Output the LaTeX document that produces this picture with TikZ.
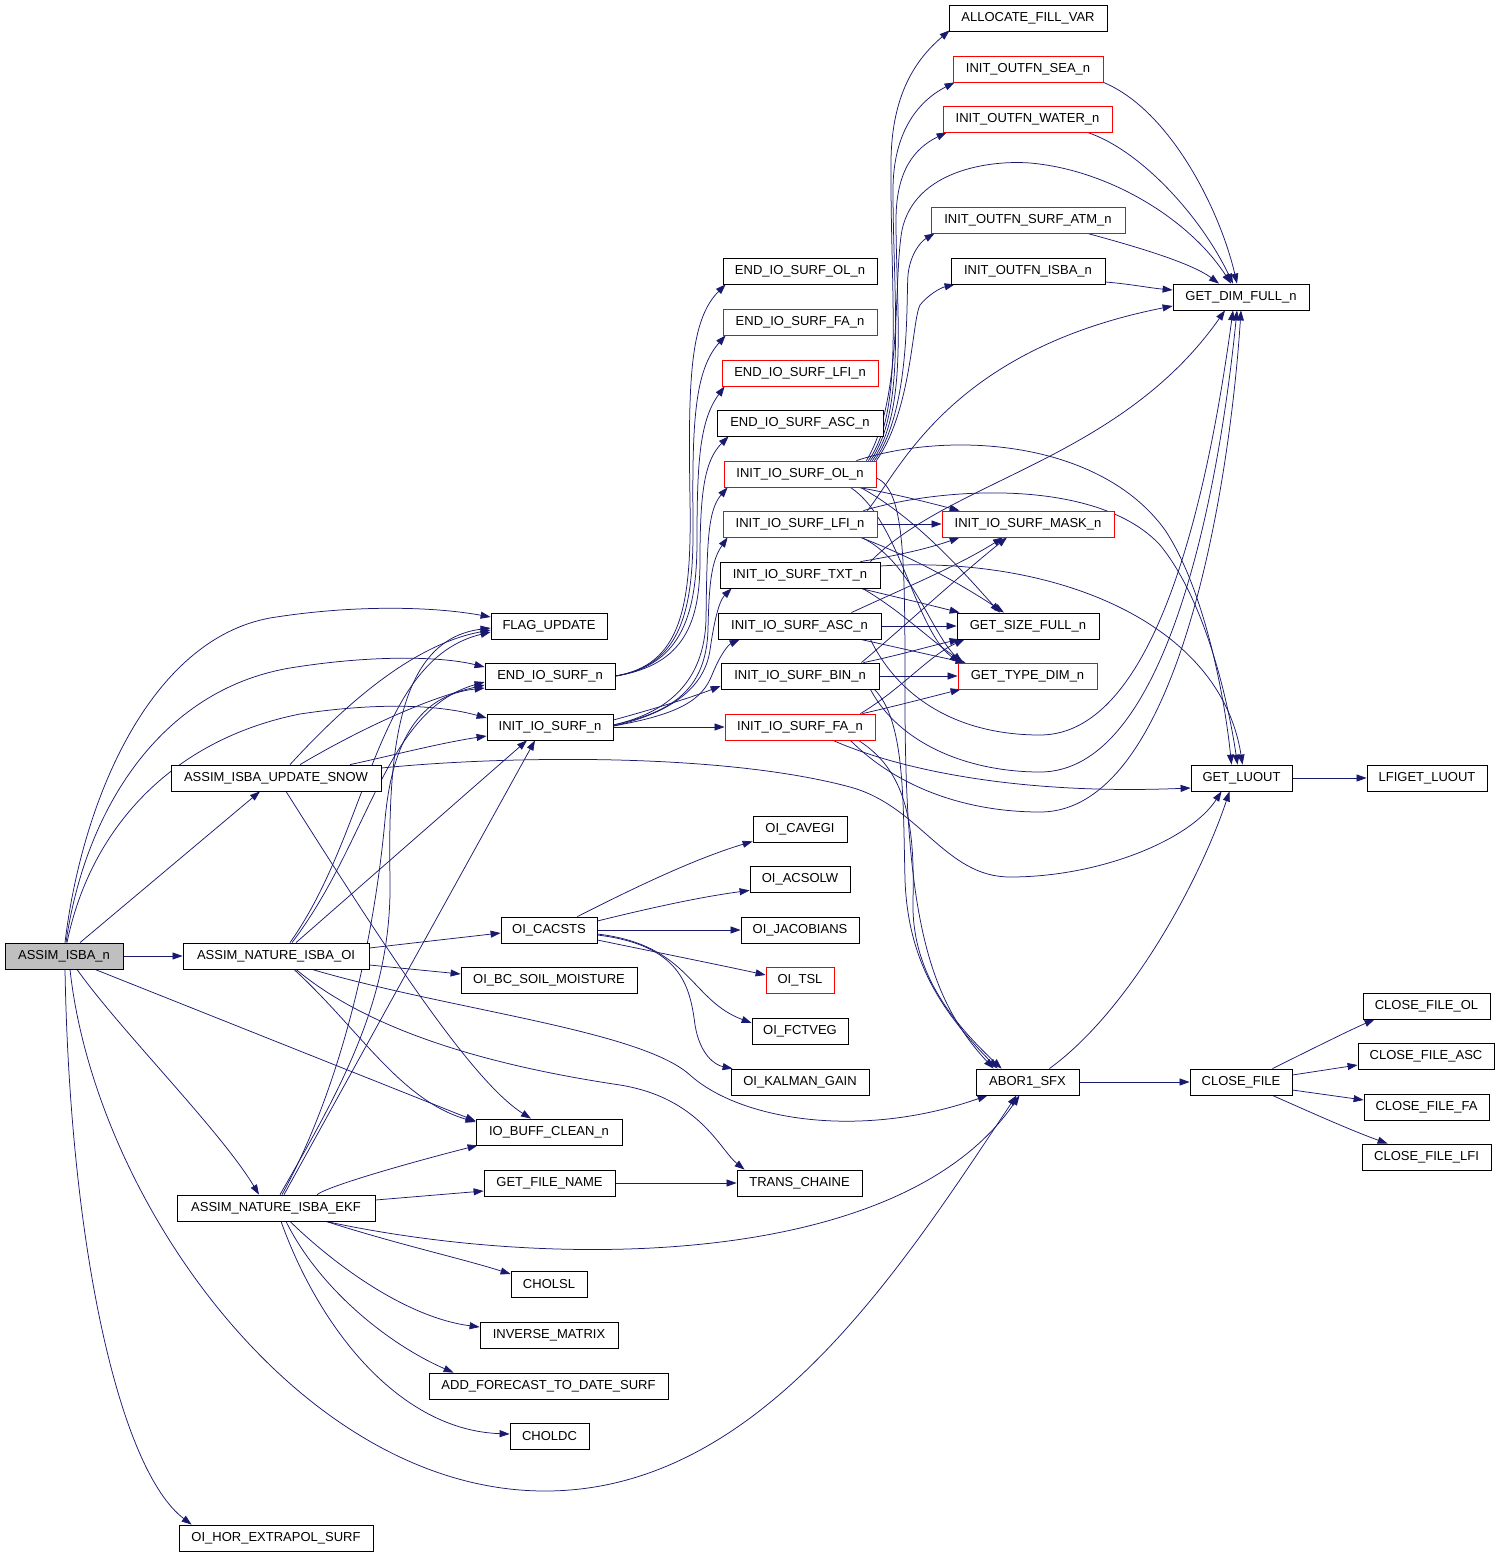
\documentclass[tikz,border=0pt]{standalone}
\usepackage{fontspec}
\setmainfont{Liberation Sans}
\usetikzlibrary{arrows.meta,calc}
\definecolor{edgeblue}{HTML}{191970}
\definecolor{boxgray}{HTML}{BFBFBF}
\pgfdeclarelayer{edges}
\pgfsetlayers{edges,main}
\tikzset{
  box/.style={draw=black, line width=0.8pt, fill=white, minimum height=26pt, inner sep=0pt, font=\fontsize{13pt}{15pt}\selectfont},
  rbox/.style={box, draw=red},
  e/.style={draw=edgeblue, line width=0.75pt, -{Triangle[length=10pt,width=7pt]}}
}
\begin{document}
\begin{tikzpicture}[x=1pt,y=-1pt]
\useasboundingbox (0,0) rectangle (1501,1557);
% rank 0/1
\node[box, minimum width=118pt, fill=boxgray] (n0) at (64,956) {ASSIM\_ISBA\_n};
\node[box, minimum width=210pt] (upd) at (276,778) {ASSIM\_ISBA\_UPDATE\_SNOW};
\node[box, minimum width=186pt] (oi) at (276,956) {ASSIM\_NATURE\_ISBA\_OI};
\node[box, minimum width=198pt] (ekf) at (276,1208) {ASSIM\_NATURE\_ISBA\_EKF};
\node[box, minimum width=194pt] (hor) at (276,1538) {OI\_HOR\_EXTRAPOL\_SURF};
% rank 2
\node[box, minimum width=116pt] (flag) at (549,626) {FLAG\_UPDATE};
\node[box, minimum width=130pt] (endio) at (550,676) {END\_IO\_SURF\_n};
\node[box, minimum width=126pt] (initio) at (550,727) {INIT\_IO\_SURF\_n};
\node[box, minimum width=96pt] (cacsts) at (549,930) {OI\_CACSTS};
\node[box, minimum width=176pt] (bc) at (549,980) {OI\_BC\_SOIL\_MOISTURE};
\node[box, minimum width=146pt] (iobuff) at (549,1132) {IO\_BUFF\_CLEAN\_n};
\node[box, minimum width=131pt] (gfn) at (549.5,1183) {GET\_FILE\_NAME};
\node[box, minimum width=76pt] (cholsl) at (549,1284) {CHOLSL};
\node[box, minimum width=138pt] (inv) at (549,1335) {INVERSE\_MATRIX};
\node[box, minimum width=239pt] (addf) at (548.5,1386) {ADD\_FORECAST\_TO\_DATE\_SURF};
\node[box, minimum width=79pt] (choldc) at (549.5,1436) {CHOLDC};
% rank 3
\node[box, minimum width=154pt] (eol) at (800,271) {END\_IO\_SURF\_OL\_n};
\node[rbox, minimum width=154pt] (efa) at (800,322) {END\_IO\_SURF\_FA\_n};
\node[rbox, minimum width=156pt] (elfi) at (800,373) {END\_IO\_SURF\_LFI\_n};
\node[box, minimum width=166pt] (easc) at (800,423) {END\_IO\_SURF\_ASC\_n};
\node[rbox, minimum width=152pt] (iol) at (800,474) {INIT\_IO\_SURF\_OL\_n};
\node[rbox, minimum width=154pt] (ilfi) at (800,524) {INIT\_IO\_SURF\_LFI\_n};
\node[box, minimum width=160pt] (itxt) at (800,575) {INIT\_IO\_SURF\_TXT\_n};
\node[box, minimum width=163pt] (iasc) at (799.5,626) {INIT\_IO\_SURF\_ASC\_n};
\node[box, minimum width=158pt] (ibin) at (800,676) {INIT\_IO\_SURF\_BIN\_n};
\node[rbox, minimum width=150pt] (ifa) at (800,727) {INIT\_IO\_SURF\_FA\_n};
\node[box, minimum width=94pt] (cavegi) at (800,829) {OI\_CAVEGI};
\node[box, minimum width=100pt] (acsolw) at (800,879) {OI\_ACSOLW};
\node[box, minimum width=118pt] (jac) at (800,930) {OI\_JACOBIANS};
\node[rbox, minimum width=68pt] (tsl) at (800,980) {OI\_TSL};
\node[box, minimum width=96pt] (fctveg) at (800,1031) {OI\_FCTVEG};
\node[box, minimum width=138pt] (kalman) at (800,1082) {OI\_KALMAN\_GAIN};
\node[box, minimum width=125pt] (trans) at (799.5,1183) {TRANS\_CHAINE};
% rank 4
\node[box, minimum width=158pt] (alloc) at (1028,18) {ALLOCATE\_FILL\_VAR};
\node[rbox, minimum width=150pt] (sea) at (1028,69) {INIT\_OUTFN\_SEA\_n};
\node[rbox, minimum width=169pt] (water) at (1027.5,119) {INIT\_OUTFN\_WATER\_n};
\node[rbox, minimum width=194pt] (satm) at (1028,220) {INIT\_OUTFN\_SURF\_ATM\_n};
\node[box, minimum width=154pt] (isba) at (1028,271) {INIT\_OUTFN\_ISBA\_n};
\node[rbox, minimum width=172pt] (mask) at (1028,524) {INIT\_IO\_SURF\_MASK\_n};
\node[box, minimum width=142pt] (size) at (1028,626) {GET\_SIZE\_FULL\_n};
\node[rbox, minimum width=139pt] (type) at (1027.5,676) {GET\_TYPE\_DIM\_n};
\node[box, minimum width=103pt] (abor) at (1027.5,1082) {ABOR1\_SFX};
% rank 5/6
\node[box, minimum width=136pt] (gdf) at (1241,297) {GET\_DIM\_FULL\_n};
\node[box, minimum width=101pt] (gl) at (1241.5,778) {GET\_LUOUT};
\node[box, minimum width=102pt] (cf) at (1241,1082) {CLOSE\_FILE};
\node[box, minimum width=120pt] (lfig) at (1427,778) {LFIGET\_LUOUT};
\node[box, minimum width=127pt] (cfol) at (1426.5,1006) {CLOSE\_FILE\_OL};
\node[box, minimum width=136pt] (cfasc) at (1426,1056) {CLOSE\_FILE\_ASC};
\node[box, minimum width=125pt] (cffa) at (1426.5,1107) {CLOSE\_FILE\_FA};
\node[box, minimum width=129pt] (cflfi) at (1426.5,1157) {CLOSE\_FILE\_LFI};

\begin{pgfonlayer}{edges}
% ASSIM_ISBA_n
\draw[e] ($(n0.north)+(1,0)$) .. controls (82,800) and (150,640) .. (270,618) .. controls (350,605) and (430,606) .. ($(flag.west)+(0,-9)$);
\draw[e] ($(n0.north)+(2,0)$) .. controls (85,810) and (160,690) .. (290,668) .. controls (370,655) and (440,656) .. ($(endio.west)+(0,-9)$);
\draw[e] ($(n0.north)+(3,0)$) .. controls (90,830) and (170,740) .. (300,714) .. controls (380,702) and (440,705) .. ($(initio.west)+(0,-9)$);
\draw[e] ($(n0.north)+(16,0)$) -- ($(upd.south)+(-16,0)$);
\draw[e] (n0.east) -- (oi.west);
\draw[e] ($(n0.south)+(31,0)$) -- ($(iobuff.west)+(0,-11)$);
\draw[e] ($(n0.south)+(13,0)$) .. controls (120,1030) and (220,1130) .. ($(ekf.north)+(-17,0)$);
\draw[e] ($(n0.south)+(1,0)$) .. controls (70,1250) and (120,1470) .. ($(hor.north west)+(13,0)$);
\draw[e] ($(n0.south)+(6,0)$) .. controls (95,1200) and (300,1491) .. (545,1491) .. controls (760,1491) and (900,1270) .. ($(abor.south)+(-11,0)$);
% UPDATE_SNOW
\draw[e] ($(upd.north)+(14,0)$) .. controls (340,710) and (410,645) .. ($(flag.west)+(0,4)$);
\draw[e] ($(upd.north)+(24,0)$) .. controls (350,735) and (420,700) .. ($(endio.west)+(0,9)$);
\draw[e] ($(upd.north)+(74,0)$) .. controls (390,756) and (440,743) .. ($(initio.west)+(0,9)$);
\draw[e] ($(upd.south)+(10,0)$) .. controls (380,940) and (470,1080) .. ($(iobuff.north)+(-18,0)$);
\draw[e] ($(upd.east)+(0,-10)$) .. controls (500,756) and (720,752) .. (850,787) .. controls (920,806) and (945,877) .. (1010,877) .. controls (1100,877) and (1190,840) .. ($(gl.south)+(-20,0)$);
% NATURE_ISBA_OI
\draw[e] ($(oi.north)+(14,0)$) .. controls (370,830) and (375,660) .. ($(flag.west)+(0,6)$);
\draw[e] ($(oi.north)+(16,0)$) .. controls (370,840) and (385,710) .. ($(endio.west)+(0,6)$);
\draw[e] ($(oi.north)+(20,0)$) -- ($(initio.south)+(-23,0)$);
\draw[e] ($(oi.east)+(0,-8)$) -- ($(cacsts.west)+(0,3)$);
\draw[e] ($(oi.east)+(0,9)$) -- ($(bc.west)+(0,-6)$);
\draw[e] ($(oi.south)+(18,0)$) .. controls (360,1030) and (400,1100) .. ($(iobuff.west)+(0,-10)$);
\draw[e] ($(oi.south)+(20,0)$) .. controls (380,1040) and (520,1070) .. (620,1085) .. controls (700,1098) and (720,1150) .. ($(trans.north west)+(8,0)$);
\draw[e] ($(oi.south)+(36,0)$) .. controls (450,1010) and (640,1030) .. (690,1075) .. controls (740,1120) and (860,1140) .. ($(abor.south west)+(12,0)$);
% NATURE_ISBA_EKF
\draw[e] ($(ekf.north)+(4,0)$) .. controls (340,1090) and (392,1000) .. (390,880) .. controls (388,760) and (395,640) .. ($(flag.west)+(0,2)$);
\draw[e] ($(ekf.north)+(6,0)$) .. controls (345,1080) and (375,930) .. (385,820) .. controls (392,740) and (420,695) .. ($(endio.west)+(0,12)$);
\draw[e] ($(ekf.north)+(8,0)$) -- ($(initio.south)+(-15,0)$);
\draw[e] ($(ekf.north)+(41,0)$) .. controls (330,1185) and (420,1160) .. ($(iobuff.south west)+(2,0)$);
\draw[e] ($(ekf.east)+(0,-8)$) -- ($(gfn.west)+(0,8)$);
\draw[e] ($(ekf.south)+(50,0)$) .. controls (550,1270) and (900,1270) .. ($(abor.south)+(-8,0)$);
\draw[e] ($(ekf.south)+(50,0)$) .. controls (400,1245) and (460,1258) .. ($(cholsl.west)+(0,-10)$);
\draw[e] ($(ekf.south)+(14,0)$) .. controls (340,1270) and (410,1318) .. ($(inv.west)+(0,-8)$);
\draw[e] ($(ekf.south)+(10,0)$) .. controls (320,1290) and (390,1345) .. ($(addf.north west)+(25,0)$);
\draw[e] ($(ekf.south)+(5,0)$) .. controls (320,1330) and (400,1430) .. ($(choldc.west)+(0,-2)$);
% END_IO_SURF_n
\draw[e] (endio.east) .. controls (680,665) and (692,610) .. (690,500) .. controls (688,380) and (690,320) .. ($(eol.south west)+(3,0)$);
\draw[e] (endio.east) .. controls (682,665) and (694,610) .. (693,520) .. controls (692,420) and (695,370) .. ($(efa.south west)+(3,0)$);
\draw[e] (endio.east) .. controls (684,665) and (697,610) .. (697,540) .. controls (697,460) and (700,420) .. ($(elfi.south west)+(3,0)$);
\draw[e] (endio.east) .. controls (686,665) and (700,620) .. (700,560) .. controls (700,490) and (705,460) .. ($(easc.south west)+(12,0)$);
% INIT_IO_SURF_n
\draw[e] ($(initio.east)+(0,-2)$) .. controls (670,712) and (704,680) .. (706,620) .. controls (707,540) and (708,510) .. ($(iol.south west)+(4,0)$);
\draw[e] ($(initio.east)+(0,-2)$) .. controls (672,712) and (706,690) .. (708,630) .. controls (709,580) and (712,560) .. ($(ilfi.south west)+(5,0)$);
\draw[e] ($(initio.east)+(0,-1)$) .. controls (675,712) and (705,685) .. (710,650) .. controls (715,615) and (720,600) .. ($(itxt.south west)+(12,0)$);
\draw[e] ($(initio.east)+(0,-1)$) .. controls (680,714) and (702,700) .. (712,675) .. controls (720,655) and (728,645) .. ($(iasc.south west)+(22,0)$);
\draw[e] ($(initio.east)+(0,-7)$) .. controls (650,710) and (690,698) .. ($(ibin.west)+(0,10)$);
\draw[e] (initio.east) -- (ifa.west);
% OI_CACSTS
\draw[e] ($(cacsts.north east)+(-20,0)$) .. controls (620,895) and (690,860) .. ($(cavegi.south west)+(0,-1)$);
\draw[e] ($(cacsts.east)+(0,-9)$) .. controls (650,908) and (700,897) .. ($(acsolw.south west)+(0,-2)$);
\draw[e] (cacsts.east) -- (jac.west);
\draw[e] ($(cacsts.east)+(0,10)$) .. controls (660,953) and (720,965) .. ($(tsl.west)+(0,-5)$);
\draw[e] ($(cacsts.east)+(0,4)$) .. controls (690,945) and (690,1000) .. ($(fctveg.west)+(0,-8)$);
\draw[e] ($(cacsts.east)+(0,5)$) .. controls (680,945) and (690,985) .. (695,1025) .. controls (700,1055) and (715,1065) .. ($(kalman.north west)+(2,0)$);
\draw[e] (gfn.east) -- (trans.west);
% INIT_IO_SURF_OL_n
\draw[e] ($(iol.north east)+(-8,0)$) .. controls (905,410) and (890,300) .. (891,160) .. controls (892,95) and (915,60) .. ($(alloc.south west)+(1,-1)$);
\draw[e] ($(iol.north east)+(-6,0)$) .. controls (907,410) and (893,300) .. (893,190) .. controls (893,130) and (920,100) .. ($(sea.south west)+(2,0)$);
\draw[e] ($(iol.north east)+(-4,0)$) .. controls (909,410) and (896,310) .. (896,220) .. controls (896,170) and (915,148) .. ($(water.south west)+(4,0)$);
\draw[e] ($(iol.north east)+(-2,0)$) .. controls (911,410) and (906,300) .. (908,275) .. controls (910,255) and (920,242) .. ($(satm.south west)+(4,0)$);
\draw[e] (iol.north east) .. controls (912,410) and (912,320) .. (920,305) .. controls (928,295) and (940,288) .. ($(isba.south west)+(4,0)$);
\draw[e] ($(iol.north east)+(-10,0)$) .. controls (903,400) and (893,280) .. (902,230) .. controls (915,170) and (990,160) .. (1030,163) .. controls (1110,170) and (1190,220) .. ($(gdf.north)+(-10,0)$);
\draw[e] ($(iol.south east)+(-18,0)$) .. controls (900,495) and (930,503) .. ($(mask.north west)+(18,0)$);
\draw[e] ($(iol.south east)+(-16,0)$) .. controls (920,520) and (970,580) .. ($(size.north)+(-28,0)$);
\draw[e] ($(iol.south east)+(-26,0)$) .. controls (900,520) and (915,630) .. ($(type.north west)+(2,0)$);
\draw[e] ($(iol.north east)+(-20,0)$) .. controls (950,430) and (1100,440) .. (1165,530) .. controls (1205,590) and (1225,700) .. ($(gl.north)+(-10,0)$);
\draw[e] ($(iol.east)+(0,4)$) .. controls (905,490) and (905,560) .. (905,700) .. controls (905,920) and (930,1000) .. ($(abor.north west)+(18,0)$);
% INIT_IO_SURF_LFI_n
\draw[e] (ilfi.east) -- (mask.west);
\draw[e] ($(ilfi.south east)+(-17,0)$) .. controls (920,560) and (970,590) .. ($(size.north)+(-24,0)$);
\draw[e] ($(ilfi.south east)+(-16,0)$) .. controls (910,560) and (930,630) .. ($(type.north west)+(4,0)$);
\draw[e] ($(ilfi.north east)+(-10,0)$) .. controls (900,470) and (950,350) .. ($(gdf.west)+(0,9)$);
\draw[e] ($(ilfi.north east)+(-14,0)$) .. controls (950,485) and (1100,480) .. (1160,545) .. controls (1205,600) and (1228,700) .. ($(gl.north)+(-4,0)$);
% INIT_IO_SURF_TXT_n
\draw[e] ($(itxt.north east)+(-20,0)$) .. controls (900,555) and (930,548) .. ($(mask.south west)+(18,0)$);
\draw[e] ($(itxt.south east)+(-20,0)$) .. controls (900,598) and (930,605) .. ($(size.north west)+(3,0)$);
\draw[e] ($(itxt.south east)+(-18,0)$) .. controls (900,610) and (930,640) .. ($(type.north west)+(6,0)$);
\draw[e] ($(itxt.north east)+(-10,0)$) .. controls (950,480) and (1120,460) .. ($(gdf.south)+(-16,0)$);
\draw[e] ($(itxt.east)+(0,-9)$) .. controls (1050,555) and (1220,620) .. ($(gl.north)+(1,0)$);
% INIT_IO_SURF_ASC_n
\draw[e] ($(iasc.north east)+(-30,0)$) .. controls (900,590) and (960,565) .. ($(mask.south)+(-25,0)$);
\draw[e] (iasc.east) -- (size.west);
\draw[e] ($(iasc.south east)+(-21,0)$) .. controls (900,648) and (930,655) .. ($(type.north west)+(8,0)$);
\draw[e] ($(iasc.south east)+(-11,0)$) .. controls (900,700) and (960,735) .. (1040,735) .. controls (1160,735) and (1210,480) .. ($(gdf.south)+(-8,0)$);
% INIT_IO_SURF_BIN_n
\draw[e] ($(ibin.north east)+(-18,0)$) .. controls (900,630) and (960,575) .. ($(mask.south)+(-21,0)$);
\draw[e] ($(ibin.north east)+(-16,0)$) .. controls (900,655) and (930,646) .. ($(size.south west)+(3,0)$);
\draw[e] (ibin.east) -- (type.west);
\draw[e] ($(ibin.south east)+(-9,0)$) .. controls (900,745) and (970,772) .. (1040,772) .. controls (1170,772) and (1220,480) .. ($(gdf.south)+(-4,0)$);
\draw[e] ($(ibin.south east)+(-5,0)$) .. controls (905,720) and (903,800) .. (905,880) .. controls (908,960) and (940,1010) .. ($(abor.north west)+(22,0)$);
% INIT_IO_SURF_FA_n
\draw[e] ($(ifa.north east)+(-15,0)$) .. controls (900,690) and (930,655) .. ($(size.south west)+(8,0)$);
\draw[e] ($(ifa.north east)+(-13,0)$) .. controls (900,705) and (930,697) .. ($(type.south west)+(3,0)$);
\draw[e] ($(ifa.south east)+(-25,0)$) .. controls (900,790) and (970,812) .. (1040,812) .. controls (1180,812) and (1230,480) .. ($(gdf.south)+(0,0)$);
\draw[e] ($(ifa.south)+(33,0)$) .. controls (900,770) and (1020,795) .. ($(gl.west)+(0,10)$);
\draw[e] ($(ifa.south east)+(-17,0)$) .. controls (905,770) and (915,820) .. (913,900) .. controls (911,970) and (950,1020) .. ($(abor.north west)+(26,0)$);
% INIT_OUTFN_*
\draw[e] (sea.south east) .. controls (1170,110) and (1220,210) .. ($(gdf.north)+(-4,0)$);
\draw[e] ($(water.south east)+(-25,0)$) .. controls (1140,150) and (1200,215) .. ($(gdf.north)+(-8,0)$);
\draw[e] ($(satm.south east)+(-38,0)$) .. controls (1130,245) and (1190,262) .. ($(gdf.north)+(-22,0)$);
\draw[e] ($(isba.east)+(0,11)$) .. controls (1130,284) and (1150,288) .. ($(gdf.west)+(0,-7)$);
% right part
\draw[e] (abor.east) -- (cf.west);
\draw[e] ($(abor.north east)+(-30,0)$) .. controls (1130,1010) and (1200,880) .. ($(gl.south)+(-12,0)$);
\draw[e] (gl.east) -- (lfig.west);
\draw[e] ($(cf.north east)+(-20,0)$) .. controls (1310,1050) and (1350,1030) .. ($(cfol.south west)+(12,0)$);
\draw[e] ($(cf.east)+(0,-7)$) -- ($(cfasc.west)+(0,9)$);
\draw[e] ($(cf.east)+(0,8)$) -- ($(cffa.west)+(0,-7)$);
\draw[e] ($(cf.south east)+(-20,0)$) .. controls (1310,1112) and (1350,1130) .. ($(cflfi.north west)+(26,0)$);
\end{pgfonlayer}
\end{tikzpicture}
\end{document}
